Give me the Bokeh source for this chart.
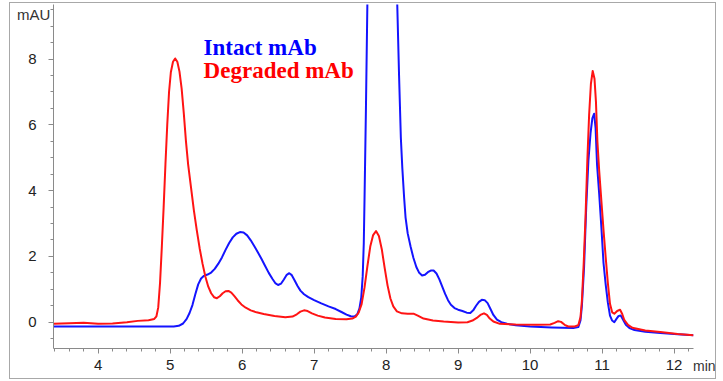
from bokeh.plotting import figure
from bokeh.models import Range1d, SingleIntervalTicker, Label, Div
from bokeh.layouts import column
from bokeh.embed import file_html
from bokeh.resources import INLINE

# Retention time (min) and absorbance (mAU)
intact_t = [3.38, 4.5, 5.05, 5.12, 5.18, 5.23, 5.27, 5.31, 5.35, 5.39, 5.43, 5.47, 5.52, 5.57,
            5.62, 5.67, 5.72, 5.77, 5.82, 5.87, 5.92, 5.97, 6.02, 6.07, 6.12, 6.17, 6.22, 6.27,
            6.32, 6.37, 6.42, 6.46, 6.50, 6.54, 6.58, 6.62, 6.655, 6.69, 6.73, 6.77, 6.81, 6.86,
            6.92, 7.00, 7.10, 7.20, 7.30, 7.38, 7.45, 7.51, 7.56, 7.60, 7.63, 7.655, 7.675, 7.69,
            7.70, 7.72, 7.74, 7.78, 7.83, 7.89, 7.95, 8.01, 8.07, 8.12, 8.155, 8.18, 8.205, 8.225,
            8.25, 8.27, 8.30, 8.34, 8.38, 8.42, 8.46, 8.50, 8.54, 8.58, 8.62, 8.66, 8.70, 8.74,
            8.78, 8.82, 8.86, 8.90, 8.95, 9.00, 9.06, 9.12, 9.17, 9.21, 9.25, 9.29, 9.33, 9.37,
            9.41, 9.45, 9.49, 9.54, 9.60, 9.68, 9.80, 10.00, 10.30, 10.60, 10.67, 10.70, 10.72,
            10.75, 10.78, 10.81, 10.84, 10.865, 10.89, 10.91, 10.93, 10.96, 10.99, 11.02, 11.05,
            11.08, 11.11, 11.14, 11.17, 11.20, 11.23, 11.26, 11.29, 11.33, 11.38, 11.45, 11.60,
            11.81, 12.05, 12.27]
intact_mau = [-0.13, -0.13, -0.13, -0.11, -0.04, 0.10, 0.28, 0.52, 0.85, 1.15, 1.33, 1.41, 1.45, 1.51,
              1.62, 1.78, 1.97, 2.20, 2.41, 2.58, 2.69, 2.74, 2.73, 2.64, 2.49, 2.31, 2.12, 1.92,
              1.71, 1.50, 1.32, 1.19, 1.13, 1.17, 1.30, 1.44, 1.49, 1.43, 1.27, 1.10, 0.96, 0.85,
              0.76, 0.67, 0.57, 0.48, 0.40, 0.31, 0.23, 0.18, 0.17, 0.24, 0.42, 0.75, 1.4, 2.4,
              3.7, 6.5, 9.7, 15.0, 22.0, 27.0, 29.0, 27.0, 21.0, 14.0, 9.66, 7.5, 5.6, 4.7,
              3.8, 3.19, 2.7, 2.3, 1.95, 1.68, 1.50, 1.42, 1.44, 1.52, 1.57, 1.57, 1.48, 1.30,
              1.08, 0.86, 0.67, 0.53, 0.43, 0.38, 0.34, 0.29, 0.28, 0.36, 0.50, 0.62, 0.68, 0.67,
              0.58, 0.40, 0.22, 0.08, 0.00, -0.05, -0.09, -0.13, -0.16, -0.18, -0.15, 0.05, 0.5,
              1.67, 3.5, 4.9, 5.75, 6.2, 6.34, 5.9, 4.8, 3.9, 2.9, 1.8, 1.15,
              0.6, 0.2, 0.05, 0.0, 0.1, 0.19, 0.2, 0.08, -0.08, -0.18, -0.24, -0.29,
              -0.33, -0.37, -0.40]

degraded_t = [3.38, 3.6, 3.8, 4.0, 4.2, 4.4, 4.55, 4.7, 4.78, 4.81, 4.835, 4.86, 4.885, 4.91,
              4.935, 4.96, 4.985, 5.01, 5.04, 5.07, 5.10, 5.13, 5.16, 5.19, 5.22, 5.25, 5.29, 5.33,
              5.37, 5.41, 5.45, 5.49, 5.53, 5.57, 5.61, 5.65, 5.69, 5.73, 5.77, 5.81, 5.85, 5.89,
              5.94, 5.99, 6.05, 6.12, 6.20, 6.30, 6.45, 6.60, 6.70, 6.76, 6.81, 6.86, 6.91, 6.97,
              7.05, 7.15, 7.30, 7.45, 7.53, 7.58, 7.62, 7.66, 7.70, 7.74, 7.78, 7.82, 7.86, 7.90,
              7.94, 7.98, 8.02, 8.06, 8.10, 8.15, 8.22, 8.30, 8.38, 8.44, 8.52, 8.65, 8.80, 9.00,
              9.13, 9.20, 9.26, 9.31, 9.36, 9.40, 9.44, 9.49, 9.58, 9.80, 10.10, 10.28, 10.34,
              10.39, 10.43, 10.48, 10.53, 10.62, 10.67, 10.70, 10.72, 10.745, 10.77, 10.795, 10.82,
              10.845, 10.87, 10.895, 10.915, 10.935, 10.96, 10.99, 11.02, 11.05, 11.08, 11.11,
              11.14, 11.17, 11.21, 11.25, 11.28, 11.31, 11.36, 11.42, 11.60, 11.81, 12.05, 12.27]
degraded_mau = [-0.05, -0.03, -0.02, -0.05, -0.04, 0.0, 0.04, 0.06, 0.10, 0.18, 0.45, 1.2, 2.3, 3.5,
                4.8, 6.0, 7.0, 7.6, 7.92, 8.02, 7.92, 7.62, 7.1, 6.35, 5.5, 4.8, 4.1, 3.4,
                2.8, 2.25, 1.78, 1.38, 1.08, 0.88, 0.76, 0.73, 0.79, 0.88, 0.94, 0.95, 0.90, 0.80,
                0.66, 0.54, 0.44, 0.36, 0.30, 0.25, 0.19, 0.15, 0.17, 0.24, 0.32, 0.36, 0.34, 0.27,
                0.20, 0.14, 0.10, 0.09, 0.11, 0.17, 0.30, 0.55, 1.05, 1.7, 2.3, 2.65, 2.77, 2.62,
                2.22, 1.65, 1.12, 0.72, 0.48, 0.33, 0.27, 0.26, 0.26, 0.20, 0.11, 0.05, 0.02, -0.01,
                0.00, 0.05, 0.13, 0.22, 0.27, 0.22, 0.11, 0.02, -0.05, -0.07, -0.08, -0.07, -0.02,
                0.03, 0.01, -0.08, -0.13, -0.13, -0.09, 0.15, 0.66, 1.8, 3.19, 4.9, 6.3,
                7.25, 7.64, 7.4, 6.7, 5.5, 4.6, 3.7, 2.8, 1.98, 1.2, 0.56,
                0.30, 0.26, 0.34, 0.38, 0.25, 0.06, -0.08, -0.17, -0.25, -0.30, -0.36, -0.40]

series_names = ["Intact mAb", "Degraded mAb"]
series_colors = ["#1414ff", "#ff1414"]
y_unit = "mAU"
x_unit = "min"

p = figure(width=703, height=373, margin=(4, 9, 4, 11),
           x_range=Range1d(3.38, 12.27), y_range=Range1d(-0.8, 9.66),
           output_backend="svg", toolbar_location=None,
           min_border_left=42, min_border_right=21, min_border_top=0, min_border_bottom=29)
p.grid.visible = False
p.outline_line_color = None
p.background_fill_color = "white"
p.border_fill_color = "white"

p.line(intact_t, intact_mau, line_color=series_colors[0], line_width=2, line_join="round")
p.line(degraded_t, degraded_mau, line_color=series_colors[1], line_width=2, line_join="round")

p.xaxis.ticker = SingleIntervalTicker(interval=1, num_minor_ticks=5)
p.yaxis.ticker = SingleIntervalTicker(interval=2, num_minor_ticks=4)
for ax in (p.xaxis[0], p.yaxis[0]):
    ax.axis_line_color = "#8a8a8a"
    ax.major_tick_line_color = "#8a8a8a"
    ax.minor_tick_line_color = "#8a8a8a"
    ax.major_tick_out = 5
    ax.major_tick_in = 0
    ax.minor_tick_out = 3
    ax.minor_tick_in = 0
    ax.major_label_text_font = "Liberation Sans"
    ax.major_label_text_font_size = "15px"
    ax.major_label_text_color = "#222222"
p.yaxis.major_label_standoff = 12
p.xaxis.major_label_standoff = 6

p.add_layout(Label(x=5.465, y=8.365, text=series_names[0], text_color="#0000ff",
                   text_baseline="alphabetic",
                   text_font="Liberation Serif", text_font_style="bold", text_font_size="23px"))
p.add_layout(Label(x=5.465, y=7.66, text=series_names[1], text_color="#ff0000",
                   text_baseline="alphabetic",
                   text_font="Liberation Serif", text_font_style="bold", text_font_size="23px"))

unit_style = {"position": "absolute", "font-family": "Liberation Sans", "color": "#333333",
              "line-height": "1", "white-space": "nowrap", "z-index": "5"}
div_y = Div(text=y_unit, margin=0,
            styles=dict(unit_style, left="17px", top="7px", **{"font-size": "15px"}))
div_x = Div(text=x_unit, margin=0,
            styles=dict(unit_style, left="693px", top="359px", **{"font-size": "14px"}))
frame_box = Div(text="", margin=0, width=707, height=377,
                styles={"position": "absolute", "left": "9px", "top": "2px",
                        "border": "1.5px solid #a8a8a8", "box-sizing": "border-box",
                        "background": "transparent", "pointer-events": "none", "z-index": "4"})

layout = column(p, div_y, div_x, frame_box)
open("out.html", "w").write(file_html(layout, INLINE))
